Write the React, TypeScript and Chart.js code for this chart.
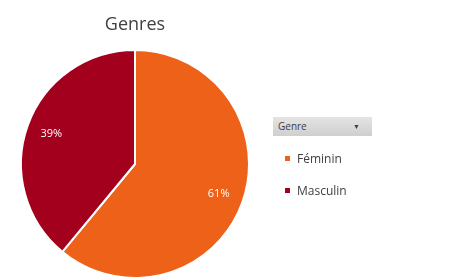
import React, { useEffect, useRef } from "react";
import { Chart, registerables } from "chart.js";

Chart.register(...registerables);

const categories = ["Féminin", "Masculin"];
const values = [61, 39];
const colors = ["#EE6119", "#A3001D"];
const chartTitle = "Genres";
const legendTitle = "Genre";

const FONT = "'Open Sans', 'Noto Sans', sans-serif";

const labelPlugin = {
  id: "pctLabels",
  afterDatasetsDraw(chart: any) {
    const ctx = chart.ctx;
    const meta = chart.getDatasetMeta(0);
    const data = chart.data.datasets[0].data as number[];
    const total = data.reduce((a, b) => a + b, 0);
    ctx.save();
    ctx.fillStyle = "#ffffff";
    ctx.font = `11px ${FONT}`;
    ctx.textAlign = "center";
    ctx.textBaseline = "middle";
    meta.data.forEach((arc: any, i: number) => {
      const { x, y, startAngle, endAngle, outerRadius } = arc.getProps(
        ["x", "y", "startAngle", "endAngle", "outerRadius"],
        true
      );
      const mid = (startAngle + endAngle) / 2;
      const r = outerRadius * 0.78;
      const pct = Math.round((data[i] / total) * 100);
      ctx.fillText(pct + "%", x + Math.cos(mid) * r, y + Math.sin(mid) * r);
    });
    ctx.restore();
  },
};

export default function App() {
  const ref = useRef<HTMLCanvasElement>(null);
  useEffect(() => {
    document.body.style.margin = "0";
    const chart = new Chart(ref.current!, {
      type: "pie",
      data: {
        labels: categories,
        datasets: [
          {
            data: values,
            backgroundColor: colors,
            borderColor: "#ffffff",
            borderWidth: 2,
          },
        ],
      },
      options: {
        animation: false,
        responsive: false,
        maintainAspectRatio: false,
        layout: { padding: { left: 20, right: 201, top: 49, bottom: 21 } },
        plugins: {
          legend: { display: false },
          title: { display: false },
          tooltip: { enabled: false },
        },
      },
      plugins: [labelPlugin],
    });
    return () => chart.destroy();
  }, []);

  return (
    <div style={{ position: "relative", width: 451, height: 280, overflow: "hidden", background: "#fff" }}>
      <canvas ref={ref} width={451} height={300} style={{ position: "absolute", left: 0, top: 0 }} />
      <div
        style={{
          position: "absolute",
          left: 0,
          width: 270,
          top: 11,
          textAlign: "center",
          font: `18px ${FONT}`,
          color: "#404040",
        }}
      >
        {chartTitle}
      </div>
      <div
        style={{
          position: "absolute",
          left: 273,
          top: 117,
          width: 99,
          height: 19,
          background: "linear-gradient(#e4e4e4, #cfcfcf)",
          boxSizing: "border-box",
          font: `10px ${FONT}`,
          color: "#404040",
          lineHeight: "19px",
          paddingLeft: 5,
        }}
      >
        {legendTitle}
        <span style={{ position: "absolute", right: 12, top: 0, fontSize: 7 }}>▼</span>
      </div>
      {categories.map((c, i) => (
        <div
          key={c}
          style={{
            position: "absolute",
            left: 285,
            top: 149 + i * 32,
            height: 18,
            lineHeight: "18px",
            font: `12px ${FONT}`,
            color: "#404040",
            display: "flex",
            alignItems: "center",
          }}
        >
          <span
            style={{
              display: "inline-block",
              width: 5,
              height: 5,
              background: colors[i],
              marginRight: 7,
            }}
          />
          {c}
        </div>
      ))}
    </div>
  );
}
